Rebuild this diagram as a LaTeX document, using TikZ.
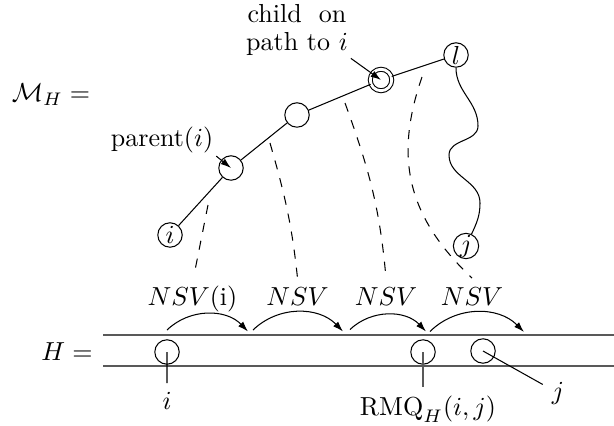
\documentclass[tikz,border=0pt]{standalone}
\usepackage{amsmath}
\usepackage{amsfonts}
\usetikzlibrary{arrows.meta}

\begin{document}
\begin{tikzpicture}[
    scale=0.135,
    % --- NODOS: circulos pequenos del arbol y del arreglo ---
    nodo/.style={circle, draw=black, fill=white, inner sep=0pt, minimum size=3.3mm},
    nodoDoble/.style={nodo, double, double distance=1.1pt, minimum size=2.9mm},
    etiqueta/.style={inner sep=1pt},
    % --- ARISTAS ---
    arista/.style={black, line width=0.4pt},
    flecha/.style={-{Latex[length=4pt, width=2.6pt]}, line width=0.4pt},
    enlaceNSV/.style={dash pattern=on 3.5pt off 3.5pt, line width=0.4pt},
    lineaH/.style={draw=black!65, line width=0.6pt}
]
    \useasboundingbox (0,0) rectangle (61.4,42.5);

    % --- ARBOL M_H ---
    \node (mh) at (5.1,33.0) {$\mathcal{M}_H =$};

    \node[nodo]      (ti)     at (17.0,19.0) {$i$};
    \node[nodo]      (tpar)   at (23.1,25.7) {};
    \node[nodo]      (tmid)   at (29.7,31.0) {};
    \node[nodoDoble] (tchild) at (38.1,34.5) {};
    \node[nodo]      (tl)     at (45.6,37.0) {$l$};
    \node[nodo]      (tj)     at (46.6,17.9) {$j$};

    \draw[arista] (ti) -- (tpar) -- (tmid) -- (tchild) -- (tl);
    \draw[arista] (tl) to[out=-90,in=90] (47.8,29.9)
                       to[out=-90,in=90] (44.9,27.0)
                       to[out=-90,in=90] (48.0,22.2)
                       to[out=-90,in=65] (tj);

    % --- ETIQUETAS DEL ARBOL ---
    \node[etiqueta] (lpar) at (16.2,28.5) {parent$(i)$};
    \draw[flecha] (lpar.south east) -- (tpar.center);

    \node[etiqueta, align=center] (lchild) at (29.7,39.5)
        {\makebox[38pt][s]{child on}\\[-1.5pt]path to $i$};
    \draw[flecha] (lchild.south east) -- (tchild.center);

    % --- ARREGLO H ---
    \node (hlab) at (6.7,7.3) {$H =$};
    \draw[lineaH] (10.3,9.0) -- (61.4,9.0);
    \draw[lineaH] (10.3,5.9) -- (61.4,5.9);

    \node[nodo] (hi)   at (16.7,7.3) {};
    \node[nodo] (hrmq) at (42.3,7.3) {};
    \node[nodo] (hj)   at (48.3,7.4) {};

    \node[anchor=north] (li)   at (16.7,4.2) {$i$};
    \node[anchor=north] (lrmq) at (42.8,3.8) {$\mathrm{RMQ}_H(i,j)$};
    \node               (lj)   at (55.8,3.2) {$j$};

    \draw[arista] (hi.center) -- (li);
    \draw[lineaH] (hrmq.center) -- (hrmq.center |- lrmq.north);
    \draw[arista] (hj.center) -- (lj);

    % --- SALTOS NSV ---
    \node[anchor=base] (nsv1) at (19.25,12.0) {$NSV$(i)};
    \node[anchor=base] (nsv2) at (29.75,12.0) {$NSV$};
    \node[anchor=base] (nsv3) at (38.6,12.0)  {$NSV$};
    \node[anchor=base] (nsv4) at (47.2,12.0)  {$NSV$};

    \coordinate (f1a) at (16.7,9.5);  \coordinate (f1b) at (24.8,9.35);
    \coordinate (f2a) at (25.3,9.5);  \coordinate (f2b) at (34.3,9.35);
    \coordinate (f3a) at (35.0,9.55); \coordinate (f3b) at (42.6,9.35);
    \coordinate (f4a) at (43.0,9.35); \coordinate (f4b) at (52.4,9.3);

    \draw[flecha] (f1a) to[bend left=45] (f1b);
    \draw[flecha] (f2a) to[bend left=45] (f2b);
    \draw[flecha] (f3a) to[bend left=45] (f3b);
    \draw[flecha] (f4a) to[bend left=45] (f4b);

    % --- ENLACES DISCONTINUOS ---
    \coordinate (d1) at (20.8,22.0);
    \coordinate (d2) at (27.0,28.2);
    \coordinate (d3) at (34.5,32.2);
    \coordinate (d4) at (42.2,34.8);

    \draw[enlaceNSV] (d1) -- ([xshift=1.3mm]nsv1.north);
    \draw[enlaceNSV] (d2) to[out=-74,in=96] (nsv2.north);
    \draw[enlaceNSV] (d3) to[out=-70,in=95] (nsv3.north);
    \draw[enlaceNSV] (d4) .. controls (39.5,27.0) and (40.5,21.0) .. (nsv4.north);

\end{tikzpicture}
\end{document}
